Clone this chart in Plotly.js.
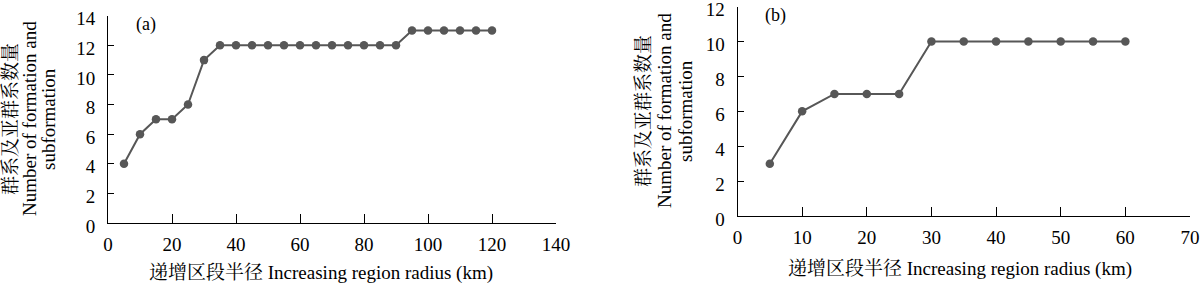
<!DOCTYPE html>
<html>
<head>
<meta charset="utf-8">
<script src="https://cdn.plot.ly/plotly-3.0.1.min.js"></script>
<style>
html,body{margin:0;padding:0;background:#fff;}
#chart{width:1200px;height:286px;}
</style>
</head>
<body>
<div id="chart"></div>
<script>
// ---- data ----
const radiusA = [5,10,15,20,25,30,35,40,45,50,55,60,65,70,75,80,85,90,95,100,105,110,115,120];
const countA  = [4,6,7,7,8,11,12,12,12,12,12,12,12,12,12,12,12,12,13,13,13,13,13,13];
const radiusB = [5,10,15,20,25,30,35,40,45,50,55,60];
const countB  = [3,6,7,7,7,10,10,10,10,10,10,10];
const xTitle = "递增区段半径 Increasing region radius (km)";
const yTitleLines = ["群系及亚群系数量", "Number of formation and", "subformation"];
const panelLabels = ["(a)", "(b)"];

// ---- style ----
const FONT_LATIN = "Liberation Serif, Times New Roman, serif";
const FONT = "Liberation Serif, Times New Roman, Noto Serif CJK SC, Noto Sans CJK SC, serif";
const W = 1200, H = 286;
const gray = "#575757";
const px = v => v / W;
const py = v => 1 - v / H;

const traceStyle = {
  mode: "lines+markers",
  line: {color: gray, width: 2},
  marker: {color: gray, size: 8.5},
  showlegend: false,
  hoverinfo: "x+y"
};

const data = [
  Object.assign({x: radiusA, y: countA, xaxis: "x", yaxis: "y"}, traceStyle),
  Object.assign({x: radiusB, y: countB, xaxis: "x2", yaxis: "y2"}, traceStyle)
];

function xAx(domain, range, dtick, anchor) {
  return {
    domain: domain, range: range, dtick: dtick, tick0: 0, anchor: anchor,
    showline: true, linecolor: "#000", linewidth: 1,
    ticks: "inside", ticklen: 9, tickwidth: 1, tickcolor: "#000",
    showgrid: false, zeroline: false,
    tickfont: {family: FONT_LATIN, size: 19, color: "#000"},
    ticklabelstandoff: 4, ticklabeloverflow: "allow", fixedrange: true
  };
}
function yAx(domain, range, dtick, anchor, shift) {
  return {
    domain: domain, range: range, dtick: dtick, tick0: 0, anchor: anchor,
    showline: true, linecolor: "#000", linewidth: 1,
    ticks: "inside", ticklen: 6, tickwidth: 1, tickcolor: "#000",
    showgrid: false, zeroline: false,
    tickfont: {family: FONT_LATIN, size: 19, color: "#000"},
    ticklabelstandoff: 8, ticklabelshift: shift, ticklabeloverflow: "allow", fixedrange: true
  };
}

// plot-area pixel boxes
const boxA = {l: 108, r: 556, t: 15.7, b: 223};
const boxB = {l: 737.5, r: 1190, t: 6.7, b: 216};

const annotations = [];
function addTitles(xt, ytx, yty, lab) {
  annotations.push({xref: "paper", yref: "paper", x: px(xt.x), y: py(xt.y),
    xanchor: "center", yanchor: "middle", showarrow: false, text: xTitle,
    font: {family: FONT, size: 19, color: "#000"}});
  yTitleLines.forEach((t, i) => {
    annotations.push({xref: "paper", yref: "paper", x: px(ytx[i]), y: py(yty),
      xanchor: "center", yanchor: "middle", showarrow: false, text: t, textangle: -90,
      font: {family: FONT, size: 19, color: "#000"}});
  });
  annotations.push({xref: "paper", yref: "paper", x: px(lab.x), y: py(lab.y),
    xanchor: "center", yanchor: "middle", showarrow: false, text: lab.text,
    font: {family: FONT_LATIN, size: 18, color: "#000"}});
}
addTitles({x: 321, y: 273}, [11, 30, 49], 119, {x: 146, y: 25, text: panelLabels[0]});
addTitles({x: 960, y: 269}, [643, 664, 685], 111, {x: 776, y: 16, text: panelLabels[1]});

const layout = {
  width: W, height: H,
  margin: {l: 0, r: 0, t: 0, b: 0},
  paper_bgcolor: "#fff", plot_bgcolor: "#fff",
  font: {family: FONT, color: "#000"},
  xaxis:  xAx([px(boxA.l), px(boxA.r)], [0, 140], 20, "y"),
  yaxis:  yAx([py(boxA.b), py(boxA.t)], [0, 14], 2, "x", 3),
  xaxis2: xAx([px(boxB.l), px(boxB.r)], [0, 70], 10, "y2"),
  yaxis2: yAx([py(boxB.b), py(boxB.t)], [0, 12], 2, "x2", 3),
  annotations: annotations
};

Plotly.newPlot("chart", data, layout, {staticPlot: true, displayModeBar: false});
</script>
</body>
</html>
